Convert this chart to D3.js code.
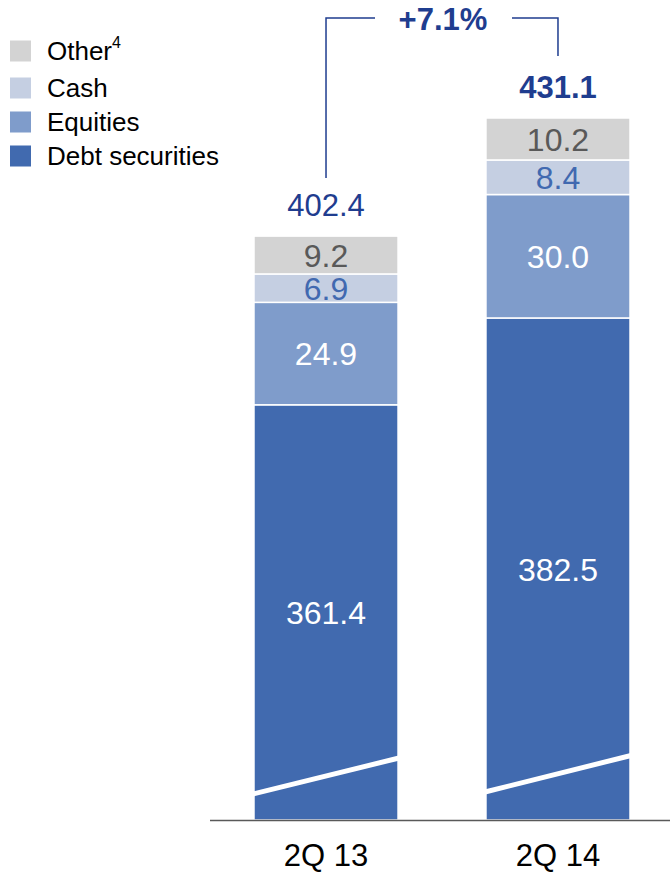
<!DOCTYPE html>
<html><head><meta charset="utf-8">
<script src="https://cdn.jsdelivr.net/npm/d3@7"></script>
<style>body{margin:0;background:#fff}svg{display:block;font-family:"Liberation Sans",Arial,sans-serif}</style>
</head><body><svg id="c" width="670" height="873"></svg>
<script>
const categories = ["2Q 13", "2Q 14"];
const seriesNames = ["Debt securities", "Equities", "Cash", "Other"];
const debt = [361.4, 382.5];
const equities = [24.9, 30.0];
const cash = [6.9, 8.4];
const other = [9.2, 10.2];
const totals = [402.4, 431.1];
const growthLabel = "+7.1%";
const axisBreakValue = 260.5;

const colors = {"Debt securities":"#416aaf","Equities":"#7f9ccb","Cash":"#c5cfe2","Other":"#d3d3d3"};
const labelColors = {"Debt securities":"#ffffff","Equities":"#ffffff","Cash":"#4169b0","Other":"#595959"};

const svg = d3.select("#c");
const x = d3.scaleBand().domain(categories).range([138, 746]).paddingInner(0.379).paddingOuter(0.5);
const y = d3.scaleLinear().domain([axisBreakValue, 431.1]).range([820, 118]);

const rows = categories.map((c,i)=>({cat:c,"Debt securities":debt[i],"Equities":equities[i],"Cash":cash[i],"Other":other[i]}));
const stack = d3.stack().keys(seriesNames)(rows);

const g = svg.append("g");
stack.forEach(s=>{
  g.selectAll(null).data(s).join("rect")
    .attr("x", d=>x(d.data.cat))
    .attr("width", x.bandwidth())
    .attr("y", d=>y(d[1]))
    .attr("height", d=>y(Math.max(d[0],axisBreakValue))-y(d[1]))
    .attr("fill", colors[s.key])
    .attr("stroke","#fff").attr("stroke-width",1.5);
});
// segment labels
stack.forEach(s=>{
  g.selectAll(null).data(s).join("text")
    .attr("x", d=>x(d.data.cat)+x.bandwidth()/2)
    .attr("y", d=>(y(d[1])+y(Math.max(d[0],axisBreakValue)))/2)
    .attr("dy","0.36em")
    .attr("text-anchor","middle")
    .attr("font-size",32)
    .attr("fill", labelColors[s.key])
    .text(d=>(d[1]-d[0]).toFixed(1));
});
// break marks
categories.forEach((c,i)=>{
  const x0 = x(c), x1 = x(c)+x.bandwidth();
  const yl = i===0 ? 794 : 792, yr = i===0 ? 758 : 755.5;
  g.append("line").attr("x1",x0-1).attr("x2",x1+1).attr("y1",yl).attr("y2",yr)
   .attr("stroke","#fff").attr("stroke-width",5);
});
// axis baseline
const xAxis = d3.axisBottom(x).tickSize(0).tickPadding(24);
const ax = svg.append("g").attr("transform","translate(0,820)").call(xAxis);
ax.select(".domain").attr("d","M210,0.5H670").attr("stroke","#595959").attr("stroke-width",1.5);
ax.selectAll("text").attr("font-size",31).attr("fill","#000").attr("font-family","Liberation Sans, Arial, sans-serif");

// totals
categories.forEach((c,i)=>{
  svg.append("text").attr("x",x(c)+x.bandwidth()/2).attr("y",y(totals[i])-20)
    .attr("text-anchor","middle").attr("font-size",31)
    .attr("font-weight", i===1?"bold":"normal")
    .attr("fill","#1f3d8f").text(totals[i].toFixed(1));
});

// growth bracket
const cx0 = x(categories[0])+x.bandwidth()/2, cx1 = x(categories[1])+x.bandwidth()/2;
const by = 18;
svg.append("path").attr("d",`M${cx0},178V${by}H375`).attr("fill","none").attr("stroke","#1f3d8f").attr("stroke-width",1.5);
svg.append("path").attr("d",`M512,${by}H${cx1}V56`).attr("fill","none").attr("stroke","#1f3d8f").attr("stroke-width",1.5);
svg.append("text").attr("x",443).attr("y",30).attr("text-anchor","middle")
  .attr("font-size",31).attr("font-weight","bold").attr("fill","#1f3d8f").text(growthLabel);

// legend
const legendItems = ["Other","Cash","Equities","Debt securities"];
const legendY = [51, 88, 122, 156];
legendItems.forEach((k,i)=>{
  svg.append("rect").attr("x",10).attr("y",legendY[i]-10.5).attr("width",21).attr("height",21).attr("fill",colors[k]);
  const t = svg.append("text").attr("x",47).attr("y",legendY[i]).attr("dy","0.36em").attr("font-size",26).attr("fill","#000").text(k);
  if(k==="Other") t.append("tspan").attr("font-size",16).attr("dy","-0.75em").text("4");
});
</script></body></html>
